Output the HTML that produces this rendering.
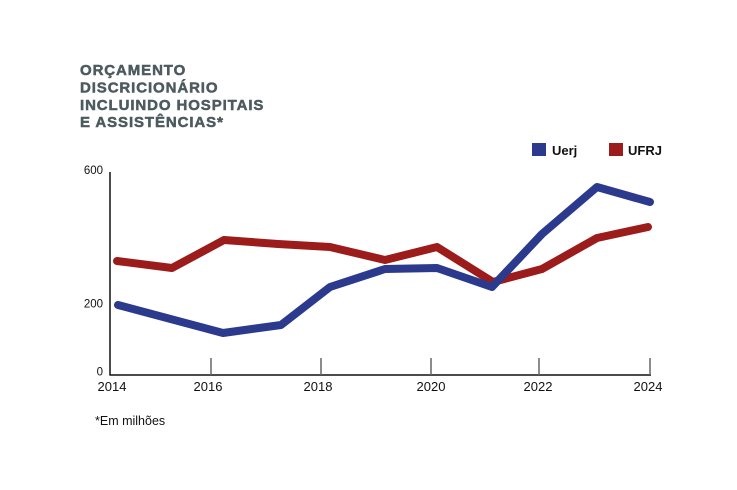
<!DOCTYPE html>
<html>
<head>
<meta charset="utf-8">
<style>
  html, body { margin:0; padding:0; background:#fff; }
  body { width:737px; height:490px; overflow:hidden; position:relative; }
  svg { position:absolute; left:0; top:0; }
</style>
</head>
<body>
<svg width="737" height="490" viewBox="0 0 737 490" xmlns="http://www.w3.org/2000/svg">
  <rect width="737" height="490" fill="#fff"/>
  <!-- Title -->
  <g font-family="Liberation Sans, Arial, sans-serif" font-weight="bold" font-size="15" fill="#4d5a5e" stroke="#4d5a5e" stroke-width="0.5" letter-spacing="0.9">
    <text x="80" y="75">ORÇAMENTO</text>
    <text x="80" y="92.5">DISCRICIONÁRIO</text>
    <text x="80" y="110">INCLUINDO HOSPITAIS</text>
    <text x="80" y="127">E ASSISTÊNCIAS*</text>
  </g>

  <!-- Legend -->
  <rect x="532" y="143" width="14" height="13" fill="#2c3a8e"/>
  <text x="552" y="155" font-family="Liberation Sans, Arial, sans-serif" font-weight="bold" font-size="13" fill="#111">Uerj</text>
  <rect x="609" y="143" width="14" height="13" fill="#9c1b1b"/>
  <text x="628" y="155" font-family="Liberation Sans, Arial, sans-serif" font-weight="bold" font-size="13" fill="#111">UFRJ</text>

  <!-- Axes -->
  <line x1="110" y1="172" x2="110" y2="375.5" stroke="#111" stroke-width="1.5"/>
  <line x1="109.5" y1="375" x2="651" y2="375" stroke="#111" stroke-width="1.5"/>
  <g stroke="#666" stroke-width="1.5">
    <line x1="211" y1="358" x2="211" y2="375"/>
    <line x1="321" y1="358" x2="321" y2="375"/>
    <line x1="431" y1="358" x2="431" y2="375"/>
    <line x1="539" y1="358" x2="539" y2="375"/>
    <line x1="650" y1="358" x2="650" y2="375"/>
  </g>

  <!-- Y labels -->
  <g font-family="Liberation Sans, Arial, sans-serif" font-size="11.5" fill="#111" text-anchor="end">
    <text x="103" y="174">600</text>
    <text x="103" y="307.5">200</text>
    <text x="103" y="375.5">0</text>
  </g>

  <!-- X labels -->
  <g font-family="Liberation Sans, Arial, sans-serif" font-size="13" fill="#111" text-anchor="middle">
    <text x="112" y="391">2014</text>
    <text x="208" y="391">2016</text>
    <text x="318" y="391">2018</text>
    <text x="431" y="391">2020</text>
    <text x="538" y="391">2022</text>
    <text x="648" y="391">2024</text>
  </g>

  <!-- Series -->
  <polyline fill="none" stroke="#9c1b1b" stroke-width="8" stroke-linejoin="round" stroke-linecap="round"
    points="117,261 172,268 224,240 278,244 330,247 385,260 437,247 493,282 542,269 597,238 648,227"/>
  <polyline fill="none" stroke="#2c3a8e" stroke-width="8" stroke-linejoin="round" stroke-linecap="round"
    points="118,305 223,333 281,325 330,287 385,269 437,268 492,287 542,234 597,187 650,202"/>

  <!-- Footnote -->
  <text x="95" y="425" font-family="Liberation Sans, Arial, sans-serif" font-size="12.5" fill="#111">*Em milhões</text>
</svg>
</body>
</html>
